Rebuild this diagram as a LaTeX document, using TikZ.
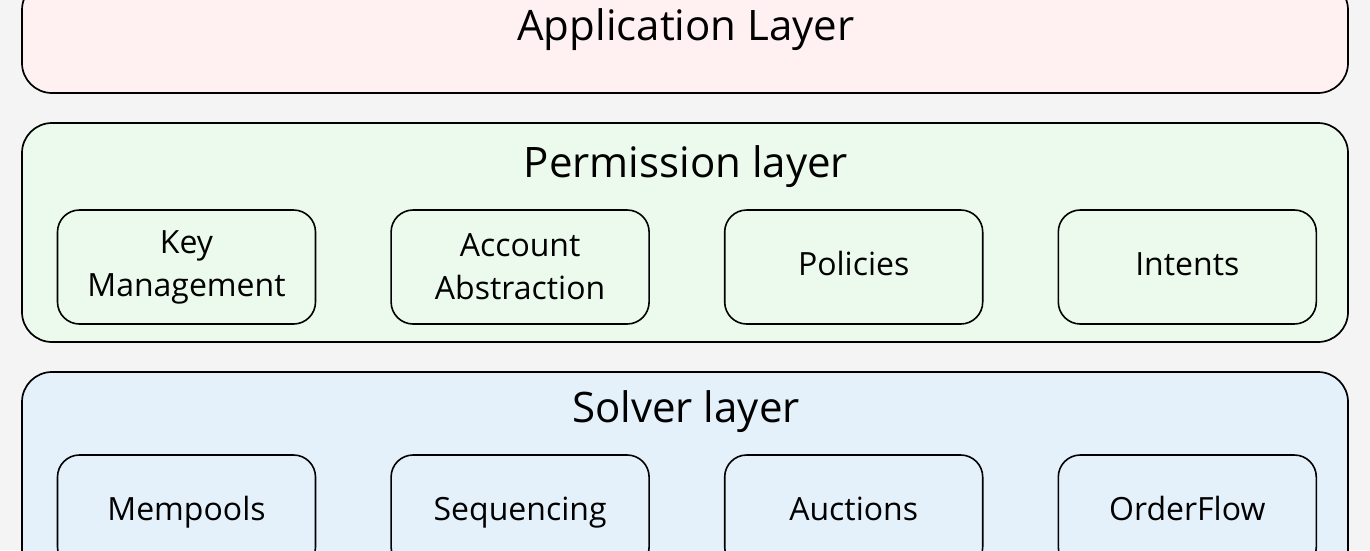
\documentclass[tikz,border=0pt]{standalone}
\usepackage{fontspec}
\setmainfont{Open Sans}
\usetikzlibrary{positioning}
\definecolor{bg}{HTML}{F4F4F4}
\definecolor{appfill}{HTML}{FFF1F1}
\definecolor{permfill}{HTML}{EBFAEC}
\definecolor{solvfill}{HTML}{E4F1FB}
\tikzset{
	layer/.style={draw,line width=1.7pt,rounded corners=30pt,minimum width=1326pt,inner sep=0pt},
	item/.style={draw,line width=1.6pt,rounded corners=22pt,minimum width=258pt,minimum height=114pt,align=center,inner sep=0pt,font=\fontsize{32}{43}\selectfont},
	oneline/.style={text height=24pt,text depth=7pt},
	layertitle/.style={font=\fontsize{42}{48}\selectfont}
}
\begin{document}
\begin{tikzpicture}[x=1pt,y=-1pt]
		\fill[bg] (0,0) rectangle (1370,550);
		\useasboundingbox (0,0) rectangle (1370,550);
		\clip (0,0) rectangle (1370,550);
		
		% application layer
		\node[layer,fill=appfill,minimum height=113pt] (app) at (685,36.5) {};
		\node[layertitle] (apptitle) at (686,30) {Application Layer};
		
		% permission layer
		\node[layer,fill=permfill,minimum height=219pt] (perm) at (685,232.5) {};
		\node[layertitle] (permtitle) at (686,167) {Permission layer};
		\node[item] (keymgmt) at (186.5,267) {Key\\Management};
		\node[item,right=74pt of keymgmt] (account) {Account\\Abstraction};
		\node[item,oneline,right=74pt of account] (policies) {Policies};
		\node[item,oneline,right=74pt of policies] (intents) {Intents};
		
		% solver layer
		\node[layer,fill=solvfill,minimum height=220pt] (solver) at (685,482) {};
		\node[layertitle] (solvtitle) at (686,412) {Solver layer};
		\node[item,oneline] (mempools) at (186.5,512) {Mempools};
		\node[item,oneline,right=74pt of mempools] (sequencing) {Sequencing};
		\node[item,oneline,right=74pt of sequencing] (auctions) {Auctions};
		\node[item,oneline,right=74pt of auctions] (orderflow) {OrderFlow};
	\end{tikzpicture}
\end{document}
